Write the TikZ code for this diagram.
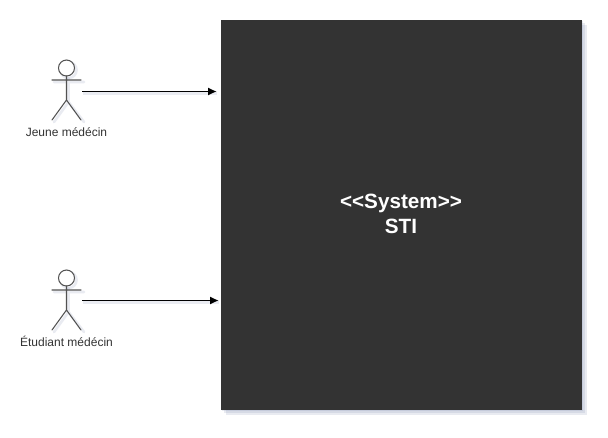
\documentclass[tikz,border=0pt]{standalone}
\usepackage{fontspec}
\setmainfont{Liberation Sans}[Ligatures=NoCommon]
\usetikzlibrary{arrows.meta,calc}
\definecolor{boxfill}{HTML}{333333}
\definecolor{shadowc}{HTML}{5A6A9A}
\definecolor{ink}{HTML}{333333}
\tikzset{
  x=0.75pt,y=-0.75pt,
  limb/.style={draw=ink!85,line width=0.8pt,line cap=round},
  limbshadow/.style={draw=shadowc,line width=2pt,opacity=0.13,line cap=round},
  actorlabel/.style={font=\fontsize{9pt}{10pt}\selectfont,text=ink,inner sep=0pt},
  sysbox/.style={fill=boxfill,draw=none,minimum width=270.75pt,minimum height=292.5pt,inner sep=0pt},
  systitle/.style={text=white,align=center,inner sep=0pt,font=\fontsize{15.5pt}{19pt}\selectfont\bfseries},
  conn/.style={draw=black,line width=0.85pt,-{Latex[length=6.5pt,width=6pt]}},
  connshadow/.style={draw=shadowc,line width=2pt,opacity=0.12},
  boxshadow/.style={fill=shadowc,opacity=0.13,draw=none}
}
\newcommand{\stick}[2]{%
  \begin{scope}[shift={(#1,#2)}]
    \draw[limbshadow] (2,2) circle[radius=8];
    \draw[limbshadow] (-12.5,14) -- (17.5,14) (2,10) -- (2,34) -- (-12.5,54) (2,34) -- (17.5,54);
    \draw[limb,fill=white] (0,0) circle[radius=8];
    \draw[limb] (-14.5,12) -- (14.5,12) (0,8) -- (0,32) -- (-14.5,52) (0,32) -- (14.5,52);
  \end{scope}}
\begin{document}
\begin{tikzpicture}
\useasboundingbox (0,0) rectangle (608,437);
\fill[white] (0,0) rectangle (608,437);
% box shadow
\foreach \d in {1,3,5}{\fill[boxshadow] (221+\d,20+\d) rectangle (582+\d,410+\d);}
\node[sysbox] (sys) at (401.5,215) {};
\node[systitle] (title) at (401,214) {{<}{<}System{>}{>}\\STI};
% actors
\stick{66.5}{68}
\stick{66.5}{278}
\node[actorlabel] (jeune) at (66.5,132) {Jeune médécin};
\node[actorlabel] (etud) at (66.5,341.5) {Étudiant médécin};
\coordinate (a1) at (82,91.5);
\coordinate (a2) at (82,300.5);
\draw[connshadow] ($(a1)+(1,2)$) -- ($(a1 -| sys.west)+(-4,2)$);
\draw[connshadow] ($(a2)+(1,2)$) -- ($(a2 -| sys.west)+(-2,2)$);
\draw[conn,shorten >=3pt] (a1) -- (a1 -| sys.west);
\draw[conn,shorten >=1.5pt] (a2) -- (a2 -| sys.west);
\end{tikzpicture}
\end{document}
